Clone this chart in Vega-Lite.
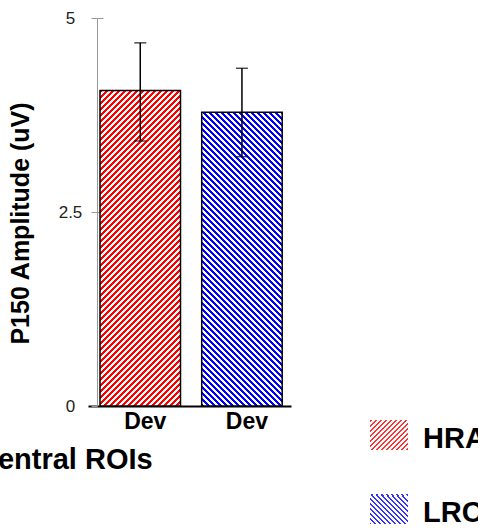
{
"$schema":"https://vega.github.io/schema/vega-lite/v6.json",
"width":203,"height":388,
"autosize":"none",
"padding":{"left":88,"top":18,"right":187,"bottom":122},
"background":"white",
"config":{"view":{"stroke":null},"font":"Liberation Sans"},
"title":{"text":"Central ROIs","orient":"bottom","anchor":"start","frame":"group","dx":-111,"offset":-83,"fontSize":29,"fontWeight":"bold","color":"black","font":"Liberation Sans"},
"data":{"values":[
{"group":"HRA","mean":4.065,"lo":3.415,"hi":4.68},
{"group":"LRC","mean":3.785,"lo":3.213,"hi":4.352}
]},
"resolve":{"axis":{"y":"independent"},"scale":{"shape":"independent"},"legend":{"shape":"independent"}},
"encoding":{
"x":{"field":"group","type":"nominal","sort":["HRA","LRC"],
"scale":{"domain":["HRA","LRC"],"paddingInner":0.2085,"paddingOuter":0.1023,"align":0.577},
"axis":{"title":null,"labelExpr":"'Dev'","labelAngle":0,"labelFontSize":23,"labelFontWeight":"bold","labelColor":"black","labelPadding":4,"labelOffset":5,"ticks":false,"domainColor":"black","domainWidth":2}}
},
"layer":[
{"transform":[{"filter":"datum.group === 'HRA'"}],
"mark":{"type":"bar","stroke":"black","strokeWidth":1.5,"fill":{"gradient":"linear","x1":0,"y1":0,"x2":0.36455,"y2":1.42864,"stops":[
{"offset":0,"color":"#f00"},
{"offset":0.00625,"color":"#f00"},{"offset":0.00625,"color":"#fff"},{"offset":0.0125,"color":"#fff"},{"offset":0.0125,"color":"#f00"},
{"offset":0.01875,"color":"#f00"},{"offset":0.01875,"color":"#fff"},{"offset":0.025,"color":"#fff"},{"offset":0.025,"color":"#f00"},
{"offset":0.03125,"color":"#f00"},{"offset":0.03125,"color":"#fff"},{"offset":0.0375,"color":"#fff"},{"offset":0.0375,"color":"#f00"},
{"offset":0.04375,"color":"#f00"},{"offset":0.04375,"color":"#fff"},{"offset":0.05,"color":"#fff"},{"offset":0.05,"color":"#f00"},
{"offset":0.05625,"color":"#f00"},{"offset":0.05625,"color":"#fff"},{"offset":0.0625,"color":"#fff"},{"offset":0.0625,"color":"#f00"},
{"offset":0.06875,"color":"#f00"},{"offset":0.06875,"color":"#fff"},{"offset":0.075,"color":"#fff"},{"offset":0.075,"color":"#f00"},
{"offset":0.08125,"color":"#f00"},{"offset":0.08125,"color":"#fff"},{"offset":0.0875,"color":"#fff"},{"offset":0.0875,"color":"#f00"},
{"offset":0.09375,"color":"#f00"},{"offset":0.09375,"color":"#fff"},{"offset":0.1,"color":"#fff"},{"offset":0.1,"color":"#f00"},
{"offset":0.10625,"color":"#f00"},{"offset":0.10625,"color":"#fff"},{"offset":0.1125,"color":"#fff"},{"offset":0.1125,"color":"#f00"},
{"offset":0.11875,"color":"#f00"},{"offset":0.11875,"color":"#fff"},{"offset":0.125,"color":"#fff"},{"offset":0.125,"color":"#f00"},
{"offset":0.13125,"color":"#f00"},{"offset":0.13125,"color":"#fff"},{"offset":0.1375,"color":"#fff"},{"offset":0.1375,"color":"#f00"},
{"offset":0.14375,"color":"#f00"},{"offset":0.14375,"color":"#fff"},{"offset":0.15,"color":"#fff"},{"offset":0.15,"color":"#f00"},
{"offset":0.15625,"color":"#f00"},{"offset":0.15625,"color":"#fff"},{"offset":0.1625,"color":"#fff"},{"offset":0.1625,"color":"#f00"},
{"offset":0.16875,"color":"#f00"},{"offset":0.16875,"color":"#fff"},{"offset":0.175,"color":"#fff"},{"offset":0.175,"color":"#f00"},
{"offset":0.18125,"color":"#f00"},{"offset":0.18125,"color":"#fff"},{"offset":0.1875,"color":"#fff"},{"offset":0.1875,"color":"#f00"},
{"offset":0.19375,"color":"#f00"},{"offset":0.19375,"color":"#fff"},{"offset":0.2,"color":"#fff"},{"offset":0.2,"color":"#f00"},
{"offset":0.20625,"color":"#f00"},{"offset":0.20625,"color":"#fff"},{"offset":0.2125,"color":"#fff"},{"offset":0.2125,"color":"#f00"},
{"offset":0.21875,"color":"#f00"},{"offset":0.21875,"color":"#fff"},{"offset":0.225,"color":"#fff"},{"offset":0.225,"color":"#f00"},
{"offset":0.23125,"color":"#f00"},{"offset":0.23125,"color":"#fff"},{"offset":0.2375,"color":"#fff"},{"offset":0.2375,"color":"#f00"},
{"offset":0.24375,"color":"#f00"},{"offset":0.24375,"color":"#fff"},{"offset":0.25,"color":"#fff"},{"offset":0.25,"color":"#f00"},
{"offset":0.25625,"color":"#f00"},{"offset":0.25625,"color":"#fff"},{"offset":0.2625,"color":"#fff"},{"offset":0.2625,"color":"#f00"},
{"offset":0.26875,"color":"#f00"},{"offset":0.26875,"color":"#fff"},{"offset":0.275,"color":"#fff"},{"offset":0.275,"color":"#f00"},
{"offset":0.28125,"color":"#f00"},{"offset":0.28125,"color":"#fff"},{"offset":0.2875,"color":"#fff"},{"offset":0.2875,"color":"#f00"},
{"offset":0.29375,"color":"#f00"},{"offset":0.29375,"color":"#fff"},{"offset":0.3,"color":"#fff"},{"offset":0.3,"color":"#f00"},
{"offset":0.30625,"color":"#f00"},{"offset":0.30625,"color":"#fff"},{"offset":0.3125,"color":"#fff"},{"offset":0.3125,"color":"#f00"},
{"offset":0.31875,"color":"#f00"},{"offset":0.31875,"color":"#fff"},{"offset":0.325,"color":"#fff"},{"offset":0.325,"color":"#f00"},
{"offset":0.33125,"color":"#f00"},{"offset":0.33125,"color":"#fff"},{"offset":0.3375,"color":"#fff"},{"offset":0.3375,"color":"#f00"},
{"offset":0.34375,"color":"#f00"},{"offset":0.34375,"color":"#fff"},{"offset":0.35,"color":"#fff"},{"offset":0.35,"color":"#f00"},
{"offset":0.35625,"color":"#f00"},{"offset":0.35625,"color":"#fff"},{"offset":0.3625,"color":"#fff"},{"offset":0.3625,"color":"#f00"},
{"offset":0.36875,"color":"#f00"},{"offset":0.36875,"color":"#fff"},{"offset":0.375,"color":"#fff"},{"offset":0.375,"color":"#f00"},
{"offset":0.38125,"color":"#f00"},{"offset":0.38125,"color":"#fff"},{"offset":0.3875,"color":"#fff"},{"offset":0.3875,"color":"#f00"},
{"offset":0.39375,"color":"#f00"},{"offset":0.39375,"color":"#fff"},{"offset":0.4,"color":"#fff"},{"offset":0.4,"color":"#f00"},
{"offset":0.40625,"color":"#f00"},{"offset":0.40625,"color":"#fff"},{"offset":0.4125,"color":"#fff"},{"offset":0.4125,"color":"#f00"},
{"offset":0.41875,"color":"#f00"},{"offset":0.41875,"color":"#fff"},{"offset":0.425,"color":"#fff"},{"offset":0.425,"color":"#f00"},
{"offset":0.43125,"color":"#f00"},{"offset":0.43125,"color":"#fff"},{"offset":0.4375,"color":"#fff"},{"offset":0.4375,"color":"#f00"},
{"offset":0.44375,"color":"#f00"},{"offset":0.44375,"color":"#fff"},{"offset":0.45,"color":"#fff"},{"offset":0.45,"color":"#f00"},
{"offset":0.45625,"color":"#f00"},{"offset":0.45625,"color":"#fff"},{"offset":0.4625,"color":"#fff"},{"offset":0.4625,"color":"#f00"},
{"offset":0.46875,"color":"#f00"},{"offset":0.46875,"color":"#fff"},{"offset":0.475,"color":"#fff"},{"offset":0.475,"color":"#f00"},
{"offset":0.48125,"color":"#f00"},{"offset":0.48125,"color":"#fff"},{"offset":0.4875,"color":"#fff"},{"offset":0.4875,"color":"#f00"},
{"offset":0.49375,"color":"#f00"},{"offset":0.49375,"color":"#fff"},{"offset":0.5,"color":"#fff"},{"offset":0.5,"color":"#f00"},
{"offset":0.50625,"color":"#f00"},{"offset":0.50625,"color":"#fff"},{"offset":0.5125,"color":"#fff"},{"offset":0.5125,"color":"#f00"},
{"offset":0.51875,"color":"#f00"},{"offset":0.51875,"color":"#fff"},{"offset":0.525,"color":"#fff"},{"offset":0.525,"color":"#f00"},
{"offset":0.53125,"color":"#f00"},{"offset":0.53125,"color":"#fff"},{"offset":0.5375,"color":"#fff"},{"offset":0.5375,"color":"#f00"},
{"offset":0.54375,"color":"#f00"},{"offset":0.54375,"color":"#fff"},{"offset":0.55,"color":"#fff"},{"offset":0.55,"color":"#f00"},
{"offset":0.55625,"color":"#f00"},{"offset":0.55625,"color":"#fff"},{"offset":0.5625,"color":"#fff"},{"offset":0.5625,"color":"#f00"},
{"offset":0.56875,"color":"#f00"},{"offset":0.56875,"color":"#fff"},{"offset":0.575,"color":"#fff"},{"offset":0.575,"color":"#f00"},
{"offset":0.58125,"color":"#f00"},{"offset":0.58125,"color":"#fff"},{"offset":0.5875,"color":"#fff"},{"offset":0.5875,"color":"#f00"},
{"offset":0.59375,"color":"#f00"},{"offset":0.59375,"color":"#fff"},{"offset":0.6,"color":"#fff"},{"offset":0.6,"color":"#f00"},
{"offset":0.60625,"color":"#f00"},{"offset":0.60625,"color":"#fff"},{"offset":0.6125,"color":"#fff"},{"offset":0.6125,"color":"#f00"},
{"offset":0.61875,"color":"#f00"},{"offset":0.61875,"color":"#fff"},{"offset":0.625,"color":"#fff"},{"offset":0.625,"color":"#f00"},
{"offset":0.63125,"color":"#f00"},{"offset":0.63125,"color":"#fff"},{"offset":0.6375,"color":"#fff"},{"offset":0.6375,"color":"#f00"},
{"offset":0.64375,"color":"#f00"},{"offset":0.64375,"color":"#fff"},{"offset":0.65,"color":"#fff"},{"offset":0.65,"color":"#f00"},
{"offset":0.65625,"color":"#f00"},{"offset":0.65625,"color":"#fff"},{"offset":0.6625,"color":"#fff"},{"offset":0.6625,"color":"#f00"},
{"offset":0.66875,"color":"#f00"},{"offset":0.66875,"color":"#fff"},{"offset":0.675,"color":"#fff"},{"offset":0.675,"color":"#f00"},
{"offset":0.68125,"color":"#f00"},{"offset":0.68125,"color":"#fff"},{"offset":0.6875,"color":"#fff"},{"offset":0.6875,"color":"#f00"},
{"offset":0.69375,"color":"#f00"},{"offset":0.69375,"color":"#fff"},{"offset":0.7,"color":"#fff"},{"offset":0.7,"color":"#f00"},
{"offset":0.70625,"color":"#f00"},{"offset":0.70625,"color":"#fff"},{"offset":0.7125,"color":"#fff"},{"offset":0.7125,"color":"#f00"},
{"offset":0.71875,"color":"#f00"},{"offset":0.71875,"color":"#fff"},{"offset":0.725,"color":"#fff"},{"offset":0.725,"color":"#f00"},
{"offset":0.73125,"color":"#f00"},{"offset":0.73125,"color":"#fff"},{"offset":0.7375,"color":"#fff"},{"offset":0.7375,"color":"#f00"},
{"offset":0.74375,"color":"#f00"},{"offset":0.74375,"color":"#fff"},{"offset":0.75,"color":"#fff"},{"offset":0.75,"color":"#f00"},
{"offset":0.75625,"color":"#f00"},{"offset":0.75625,"color":"#fff"},{"offset":0.7625,"color":"#fff"},{"offset":0.7625,"color":"#f00"},
{"offset":0.76875,"color":"#f00"},{"offset":0.76875,"color":"#fff"},{"offset":0.775,"color":"#fff"},{"offset":0.775,"color":"#f00"},
{"offset":0.78125,"color":"#f00"},{"offset":0.78125,"color":"#fff"},{"offset":0.7875,"color":"#fff"},{"offset":0.7875,"color":"#f00"},
{"offset":0.79375,"color":"#f00"},{"offset":0.79375,"color":"#fff"},{"offset":0.8,"color":"#fff"},{"offset":0.8,"color":"#f00"},
{"offset":0.80625,"color":"#f00"},{"offset":0.80625,"color":"#fff"},{"offset":0.8125,"color":"#fff"},{"offset":0.8125,"color":"#f00"},
{"offset":0.81875,"color":"#f00"},{"offset":0.81875,"color":"#fff"},{"offset":0.825,"color":"#fff"},{"offset":0.825,"color":"#f00"},
{"offset":0.83125,"color":"#f00"},{"offset":0.83125,"color":"#fff"},{"offset":0.8375,"color":"#fff"},{"offset":0.8375,"color":"#f00"},
{"offset":0.84375,"color":"#f00"},{"offset":0.84375,"color":"#fff"},{"offset":0.85,"color":"#fff"}
]}},
"encoding":{
"y":{"field":"mean","type":"quantitative","scale":{"domain":[0,5],"nice":false},
"axis":{"orient":"left","offset":-9,"values":[0,2.5,5],"labelExpr":"'' + datum.value","labelFontSize":17,"labelColor":"#222","labelAlign":"center","labelPadding":21,"tickSize":6,"tickColor":"#999","domainColor":"#999","grid":false,
"title":"P150 Amplitude (uV)","titleFontSize":25,"titleFontWeight":"bold","titleColor":"black","titleX":-64,"titleY":205}}
}},
{"transform":[{"filter":"datum.group === 'LRC'"}],
"mark":{"type":"bar","stroke":"black","strokeWidth":1.5,"fill":{"gradient":"linear","x1":0,"y1":1,"x2":0.41658,"y2":-0.52007,"stops":[
{"offset":0,"color":"#00f"},
{"offset":0.00625,"color":"#00f"},{"offset":0.00625,"color":"#fff"},{"offset":0.0125,"color":"#fff"},{"offset":0.0125,"color":"#00f"},
{"offset":0.01875,"color":"#00f"},{"offset":0.01875,"color":"#fff"},{"offset":0.025,"color":"#fff"},{"offset":0.025,"color":"#00f"},
{"offset":0.03125,"color":"#00f"},{"offset":0.03125,"color":"#fff"},{"offset":0.0375,"color":"#fff"},{"offset":0.0375,"color":"#00f"},
{"offset":0.04375,"color":"#00f"},{"offset":0.04375,"color":"#fff"},{"offset":0.05,"color":"#fff"},{"offset":0.05,"color":"#00f"},
{"offset":0.05625,"color":"#00f"},{"offset":0.05625,"color":"#fff"},{"offset":0.0625,"color":"#fff"},{"offset":0.0625,"color":"#00f"},
{"offset":0.06875,"color":"#00f"},{"offset":0.06875,"color":"#fff"},{"offset":0.075,"color":"#fff"},{"offset":0.075,"color":"#00f"},
{"offset":0.08125,"color":"#00f"},{"offset":0.08125,"color":"#fff"},{"offset":0.0875,"color":"#fff"},{"offset":0.0875,"color":"#00f"},
{"offset":0.09375,"color":"#00f"},{"offset":0.09375,"color":"#fff"},{"offset":0.1,"color":"#fff"},{"offset":0.1,"color":"#00f"},
{"offset":0.10625,"color":"#00f"},{"offset":0.10625,"color":"#fff"},{"offset":0.1125,"color":"#fff"},{"offset":0.1125,"color":"#00f"},
{"offset":0.11875,"color":"#00f"},{"offset":0.11875,"color":"#fff"},{"offset":0.125,"color":"#fff"},{"offset":0.125,"color":"#00f"},
{"offset":0.13125,"color":"#00f"},{"offset":0.13125,"color":"#fff"},{"offset":0.1375,"color":"#fff"},{"offset":0.1375,"color":"#00f"},
{"offset":0.14375,"color":"#00f"},{"offset":0.14375,"color":"#fff"},{"offset":0.15,"color":"#fff"},{"offset":0.15,"color":"#00f"},
{"offset":0.15625,"color":"#00f"},{"offset":0.15625,"color":"#fff"},{"offset":0.1625,"color":"#fff"},{"offset":0.1625,"color":"#00f"},
{"offset":0.16875,"color":"#00f"},{"offset":0.16875,"color":"#fff"},{"offset":0.175,"color":"#fff"},{"offset":0.175,"color":"#00f"},
{"offset":0.18125,"color":"#00f"},{"offset":0.18125,"color":"#fff"},{"offset":0.1875,"color":"#fff"},{"offset":0.1875,"color":"#00f"},
{"offset":0.19375,"color":"#00f"},{"offset":0.19375,"color":"#fff"},{"offset":0.2,"color":"#fff"},{"offset":0.2,"color":"#00f"},
{"offset":0.20625,"color":"#00f"},{"offset":0.20625,"color":"#fff"},{"offset":0.2125,"color":"#fff"},{"offset":0.2125,"color":"#00f"},
{"offset":0.21875,"color":"#00f"},{"offset":0.21875,"color":"#fff"},{"offset":0.225,"color":"#fff"},{"offset":0.225,"color":"#00f"},
{"offset":0.23125,"color":"#00f"},{"offset":0.23125,"color":"#fff"},{"offset":0.2375,"color":"#fff"},{"offset":0.2375,"color":"#00f"},
{"offset":0.24375,"color":"#00f"},{"offset":0.24375,"color":"#fff"},{"offset":0.25,"color":"#fff"},{"offset":0.25,"color":"#00f"},
{"offset":0.25625,"color":"#00f"},{"offset":0.25625,"color":"#fff"},{"offset":0.2625,"color":"#fff"},{"offset":0.2625,"color":"#00f"},
{"offset":0.26875,"color":"#00f"},{"offset":0.26875,"color":"#fff"},{"offset":0.275,"color":"#fff"},{"offset":0.275,"color":"#00f"},
{"offset":0.28125,"color":"#00f"},{"offset":0.28125,"color":"#fff"},{"offset":0.2875,"color":"#fff"},{"offset":0.2875,"color":"#00f"},
{"offset":0.29375,"color":"#00f"},{"offset":0.29375,"color":"#fff"},{"offset":0.3,"color":"#fff"},{"offset":0.3,"color":"#00f"},
{"offset":0.30625,"color":"#00f"},{"offset":0.30625,"color":"#fff"},{"offset":0.3125,"color":"#fff"},{"offset":0.3125,"color":"#00f"},
{"offset":0.31875,"color":"#00f"},{"offset":0.31875,"color":"#fff"},{"offset":0.325,"color":"#fff"},{"offset":0.325,"color":"#00f"},
{"offset":0.33125,"color":"#00f"},{"offset":0.33125,"color":"#fff"},{"offset":0.3375,"color":"#fff"},{"offset":0.3375,"color":"#00f"},
{"offset":0.34375,"color":"#00f"},{"offset":0.34375,"color":"#fff"},{"offset":0.35,"color":"#fff"},{"offset":0.35,"color":"#00f"},
{"offset":0.35625,"color":"#00f"},{"offset":0.35625,"color":"#fff"},{"offset":0.3625,"color":"#fff"},{"offset":0.3625,"color":"#00f"},
{"offset":0.36875,"color":"#00f"},{"offset":0.36875,"color":"#fff"},{"offset":0.375,"color":"#fff"},{"offset":0.375,"color":"#00f"},
{"offset":0.38125,"color":"#00f"},{"offset":0.38125,"color":"#fff"},{"offset":0.3875,"color":"#fff"},{"offset":0.3875,"color":"#00f"},
{"offset":0.39375,"color":"#00f"},{"offset":0.39375,"color":"#fff"},{"offset":0.4,"color":"#fff"},{"offset":0.4,"color":"#00f"},
{"offset":0.40625,"color":"#00f"},{"offset":0.40625,"color":"#fff"},{"offset":0.4125,"color":"#fff"},{"offset":0.4125,"color":"#00f"},
{"offset":0.41875,"color":"#00f"},{"offset":0.41875,"color":"#fff"},{"offset":0.425,"color":"#fff"},{"offset":0.425,"color":"#00f"},
{"offset":0.43125,"color":"#00f"},{"offset":0.43125,"color":"#fff"},{"offset":0.4375,"color":"#fff"},{"offset":0.4375,"color":"#00f"},
{"offset":0.44375,"color":"#00f"},{"offset":0.44375,"color":"#fff"},{"offset":0.45,"color":"#fff"},{"offset":0.45,"color":"#00f"},
{"offset":0.45625,"color":"#00f"},{"offset":0.45625,"color":"#fff"},{"offset":0.4625,"color":"#fff"},{"offset":0.4625,"color":"#00f"},
{"offset":0.46875,"color":"#00f"},{"offset":0.46875,"color":"#fff"},{"offset":0.475,"color":"#fff"},{"offset":0.475,"color":"#00f"},
{"offset":0.48125,"color":"#00f"},{"offset":0.48125,"color":"#fff"},{"offset":0.4875,"color":"#fff"},{"offset":0.4875,"color":"#00f"},
{"offset":0.49375,"color":"#00f"},{"offset":0.49375,"color":"#fff"},{"offset":0.5,"color":"#fff"},{"offset":0.5,"color":"#00f"},
{"offset":0.50625,"color":"#00f"},{"offset":0.50625,"color":"#fff"},{"offset":0.5125,"color":"#fff"},{"offset":0.5125,"color":"#00f"},
{"offset":0.51875,"color":"#00f"},{"offset":0.51875,"color":"#fff"},{"offset":0.525,"color":"#fff"},{"offset":0.525,"color":"#00f"},
{"offset":0.53125,"color":"#00f"},{"offset":0.53125,"color":"#fff"},{"offset":0.5375,"color":"#fff"},{"offset":0.5375,"color":"#00f"},
{"offset":0.54375,"color":"#00f"},{"offset":0.54375,"color":"#fff"},{"offset":0.55,"color":"#fff"},{"offset":0.55,"color":"#00f"},
{"offset":0.55625,"color":"#00f"},{"offset":0.55625,"color":"#fff"},{"offset":0.5625,"color":"#fff"},{"offset":0.5625,"color":"#00f"},
{"offset":0.56875,"color":"#00f"},{"offset":0.56875,"color":"#fff"},{"offset":0.575,"color":"#fff"},{"offset":0.575,"color":"#00f"},
{"offset":0.58125,"color":"#00f"},{"offset":0.58125,"color":"#fff"},{"offset":0.5875,"color":"#fff"},{"offset":0.5875,"color":"#00f"},
{"offset":0.59375,"color":"#00f"},{"offset":0.59375,"color":"#fff"},{"offset":0.6,"color":"#fff"},{"offset":0.6,"color":"#00f"},
{"offset":0.60625,"color":"#00f"},{"offset":0.60625,"color":"#fff"},{"offset":0.6125,"color":"#fff"},{"offset":0.6125,"color":"#00f"},
{"offset":0.61875,"color":"#00f"},{"offset":0.61875,"color":"#fff"},{"offset":0.625,"color":"#fff"},{"offset":0.625,"color":"#00f"},
{"offset":0.63125,"color":"#00f"},{"offset":0.63125,"color":"#fff"},{"offset":0.6375,"color":"#fff"},{"offset":0.6375,"color":"#00f"},
{"offset":0.64375,"color":"#00f"},{"offset":0.64375,"color":"#fff"},{"offset":0.65,"color":"#fff"},{"offset":0.65,"color":"#00f"},
{"offset":0.65625,"color":"#00f"},{"offset":0.65625,"color":"#fff"},{"offset":0.6625,"color":"#fff"},{"offset":0.6625,"color":"#00f"},
{"offset":0.66875,"color":"#00f"},{"offset":0.66875,"color":"#fff"},{"offset":0.675,"color":"#fff"},{"offset":0.675,"color":"#00f"},
{"offset":0.68125,"color":"#00f"},{"offset":0.68125,"color":"#fff"},{"offset":0.6875,"color":"#fff"},{"offset":0.6875,"color":"#00f"},
{"offset":0.69375,"color":"#00f"},{"offset":0.69375,"color":"#fff"},{"offset":0.7,"color":"#fff"},{"offset":0.7,"color":"#00f"},
{"offset":0.70625,"color":"#00f"},{"offset":0.70625,"color":"#fff"},{"offset":0.7125,"color":"#fff"},{"offset":0.7125,"color":"#00f"},
{"offset":0.71875,"color":"#00f"},{"offset":0.71875,"color":"#fff"},{"offset":0.725,"color":"#fff"},{"offset":0.725,"color":"#00f"},
{"offset":0.73125,"color":"#00f"},{"offset":0.73125,"color":"#fff"},{"offset":0.7375,"color":"#fff"},{"offset":0.7375,"color":"#00f"},
{"offset":0.74375,"color":"#00f"},{"offset":0.74375,"color":"#fff"},{"offset":0.75,"color":"#fff"},{"offset":0.75,"color":"#00f"},
{"offset":0.75625,"color":"#00f"},{"offset":0.75625,"color":"#fff"},{"offset":0.7625,"color":"#fff"},{"offset":0.7625,"color":"#00f"},
{"offset":0.76875,"color":"#00f"},{"offset":0.76875,"color":"#fff"},{"offset":0.775,"color":"#fff"},{"offset":0.775,"color":"#00f"},
{"offset":0.78125,"color":"#00f"},{"offset":0.78125,"color":"#fff"},{"offset":0.7875,"color":"#fff"},{"offset":0.7875,"color":"#00f"},
{"offset":0.79375,"color":"#00f"},{"offset":0.79375,"color":"#fff"},{"offset":0.8,"color":"#fff"}
]}},
"encoding":{
"y":{"field":"mean","type":"quantitative","scale":{"domain":[0,5],"nice":false},"axis":null}
}},
{"transform":[{"filter":"datum.group === 'HRA'"}],
"mark":{"type":"point","filled":false,"size":0,"stroke":"#333","strokeWidth":2,"strokeOpacity":1,"fillOpacity":1,"fill":{"gradient":"linear","x1":0,"y1":0,"x2":1.6212,"y2":1.2799,"stops":[{"offset":0,"color":"#f33"},{"offset":0.02,"color":"#f33"},{"offset":0.02,"color":"#fff"},{"offset":0.05,"color":"#fff"},{"offset":0.05,"color":"#f33"},{"offset":0.07,"color":"#f33"},{"offset":0.07,"color":"#fff"},{"offset":0.1,"color":"#fff"},{"offset":0.1,"color":"#f33"},{"offset":0.12,"color":"#f33"},{"offset":0.12,"color":"#fff"},{"offset":0.15,"color":"#fff"},{"offset":0.15,"color":"#f33"},{"offset":0.17,"color":"#f33"},{"offset":0.17,"color":"#fff"},{"offset":0.2,"color":"#fff"},{"offset":0.2,"color":"#f33"},{"offset":0.22,"color":"#f33"},{"offset":0.22,"color":"#fff"},{"offset":0.25,"color":"#fff"},{"offset":0.25,"color":"#f33"},{"offset":0.27,"color":"#f33"},{"offset":0.27,"color":"#fff"},{"offset":0.3,"color":"#fff"},{"offset":0.3,"color":"#f33"},{"offset":0.32,"color":"#f33"},{"offset":0.32,"color":"#fff"},{"offset":0.35,"color":"#fff"},{"offset":0.35,"color":"#f33"},{"offset":0.37,"color":"#f33"},{"offset":0.37,"color":"#fff"},{"offset":0.4,"color":"#fff"},{"offset":0.4,"color":"#f33"},{"offset":0.42,"color":"#f33"},{"offset":0.42,"color":"#fff"},{"offset":0.45,"color":"#fff"},{"offset":0.45,"color":"#f33"},{"offset":0.47,"color":"#f33"},{"offset":0.47,"color":"#fff"},{"offset":0.5,"color":"#fff"},{"offset":0.5,"color":"#f33"},{"offset":0.52,"color":"#f33"},{"offset":0.52,"color":"#fff"},{"offset":0.55,"color":"#fff"},{"offset":0.55,"color":"#f33"},{"offset":0.57,"color":"#f33"},{"offset":0.57,"color":"#fff"},{"offset":0.6,"color":"#fff"},{"offset":0.6,"color":"#f33"},{"offset":0.62,"color":"#f33"},{"offset":0.62,"color":"#fff"},{"offset":0.65,"color":"#fff"},{"offset":0.65,"color":"#f33"},{"offset":0.67,"color":"#f33"},{"offset":0.67,"color":"#fff"},{"offset":0.7,"color":"#fff"}]}},
"encoding":{
"y":{"field":"mean","type":"quantitative","scale":{"domain":[0,5],"nice":false},"axis":null},
"shape":{"field":"group","type":"nominal","scale":{"domain":["HRA"],"range":["M-1,-1L1,-1L1,0.58L-1,0.58Z"]},
"legend":{"title":null,"orient":"none","legendX":281,"legendY":401,"padding":0,"symbolSize":1444,"symbolStrokeColor":"#333","symbolStrokeWidth":2,"labelFontSize":29,"labelFontWeight":"bold","labelColor":"black","labelFont":"Liberation Sans","labelOffset":14,"labelLimit":0}}
}},
{"transform":[{"filter":"datum.group === 'LRC'"}],
"mark":{"type":"point","filled":false,"size":0,"stroke":"#333","strokeWidth":2,"strokeOpacity":1,"fillOpacity":1,"fill":{"gradient":"linear","x1":0,"y1":1,"x2":1.6212,"y2":-0.2799,"stops":[{"offset":0,"color":"#33f"},{"offset":0.02,"color":"#33f"},{"offset":0.02,"color":"#fff"},{"offset":0.05,"color":"#fff"},{"offset":0.05,"color":"#33f"},{"offset":0.07,"color":"#33f"},{"offset":0.07,"color":"#fff"},{"offset":0.1,"color":"#fff"},{"offset":0.1,"color":"#33f"},{"offset":0.12,"color":"#33f"},{"offset":0.12,"color":"#fff"},{"offset":0.15,"color":"#fff"},{"offset":0.15,"color":"#33f"},{"offset":0.17,"color":"#33f"},{"offset":0.17,"color":"#fff"},{"offset":0.2,"color":"#fff"},{"offset":0.2,"color":"#33f"},{"offset":0.22,"color":"#33f"},{"offset":0.22,"color":"#fff"},{"offset":0.25,"color":"#fff"},{"offset":0.25,"color":"#33f"},{"offset":0.27,"color":"#33f"},{"offset":0.27,"color":"#fff"},{"offset":0.3,"color":"#fff"},{"offset":0.3,"color":"#33f"},{"offset":0.32,"color":"#33f"},{"offset":0.32,"color":"#fff"},{"offset":0.35,"color":"#fff"},{"offset":0.35,"color":"#33f"},{"offset":0.37,"color":"#33f"},{"offset":0.37,"color":"#fff"},{"offset":0.4,"color":"#fff"},{"offset":0.4,"color":"#33f"},{"offset":0.42,"color":"#33f"},{"offset":0.42,"color":"#fff"},{"offset":0.45,"color":"#fff"},{"offset":0.45,"color":"#33f"},{"offset":0.47,"color":"#33f"},{"offset":0.47,"color":"#fff"},{"offset":0.5,"color":"#fff"},{"offset":0.5,"color":"#33f"},{"offset":0.52,"color":"#33f"},{"offset":0.52,"color":"#fff"},{"offset":0.55,"color":"#fff"},{"offset":0.55,"color":"#33f"},{"offset":0.57,"color":"#33f"},{"offset":0.57,"color":"#fff"},{"offset":0.6,"color":"#fff"},{"offset":0.6,"color":"#33f"},{"offset":0.62,"color":"#33f"},{"offset":0.62,"color":"#fff"},{"offset":0.65,"color":"#fff"},{"offset":0.65,"color":"#33f"},{"offset":0.67,"color":"#33f"},{"offset":0.67,"color":"#fff"},{"offset":0.7,"color":"#fff"}]}},
"encoding":{
"y":{"field":"mean","type":"quantitative","scale":{"domain":[0,5],"nice":false},"axis":null},
"shape":{"field":"group","type":"nominal","scale":{"domain":["LRC"],"range":["M-1,-1L1,-1L1,0.58L-1,0.58Z"]},
"legend":{"title":null,"orient":"none","legendX":281,"legendY":475,"padding":0,"symbolSize":1444,"symbolStrokeColor":"#333","symbolStrokeWidth":2,"labelFontSize":29,"labelFontWeight":"bold","labelColor":"black","labelFont":"Liberation Sans","labelOffset":14,"labelLimit":0}}
}},
{"mark":{"type":"rule","stroke":"black","strokeWidth":1.5},
"encoding":{
"y":{"field":"lo","type":"quantitative","scale":{"domain":[0,5],"nice":false},
"axis":{"orient":"left","offset":-15,"values":[2.5,5],"domain":false,"labels":false,"tickSize":6,"tickColor":"#999","grid":false,"title":null}},
"y2":{"field":"hi"}
}},
{"mark":{"type":"tick","color":"black","size":12,"thickness":1.5},
"encoding":{"y":{"field":"hi","type":"quantitative","scale":{"domain":[0,5],"nice":false},"axis":null}}},
{"mark":{"type":"tick","color":"black","size":12,"thickness":1.5},
"encoding":{"y":{"field":"lo","type":"quantitative","scale":{"domain":[0,5],"nice":false},"axis":null}}}
]
}
